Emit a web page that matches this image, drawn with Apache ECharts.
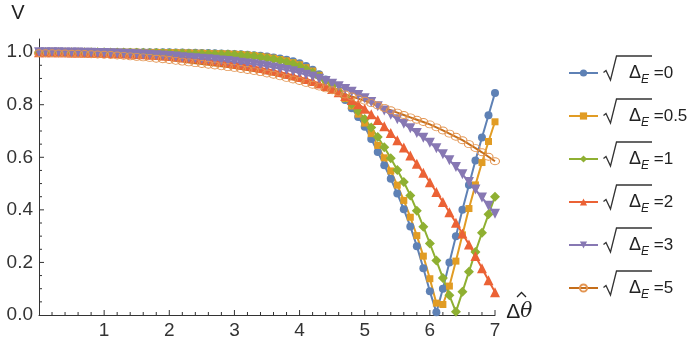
<!DOCTYPE html>
<html>
<head>
<meta charset="utf-8">
<script src="https://cdn.jsdelivr.net/npm/echarts@6/dist/echarts.min.js"></script>
<style>
  html, body { margin: 0; padding: 0; background: #fff; }
  #mycharts { width: 700px; height: 350px; }
</style>
</head>
<body>
<div id="mycharts"></div>
<script>
// sample grid of the plot (Δθ̂)
var xs = [0, 0.1, 0.2, 0.3, 0.4, 0.5, 0.6, 0.7, 0.8, 0.9,
  1, 1.1, 1.2, 1.3, 1.4, 1.5, 1.6, 1.7, 1.8, 1.9,
  2, 2.1, 2.2, 2.3, 2.4, 2.5, 2.6, 2.7, 2.8, 2.9,
  3, 3.1, 3.2, 3.3, 3.4, 3.5, 3.6, 3.7, 3.8, 3.9,
  4, 4.1, 4.2, 4.3, 4.4, 4.5, 4.6, 4.7, 4.8, 4.9,
  5, 5.1, 5.2, 5.3, 5.4, 5.5, 5.6, 5.7, 5.8, 5.9,
  6, 6.1, 6.2, 6.3, 6.4, 6.5, 6.6, 6.7, 6.8, 6.9, 7];

// V for each sqrt(ΔE)
var v0 = [1, 1, 1, 1, 1, 1, 1, 1, 1, 1,
  1, 1, 1, 1, 1, 1, 1, 1, 1, 1,
  1, 0.999, 0.999, 0.998, 0.998, 0.997, 0.997, 0.996, 0.995, 0.994,
  0.993, 0.992, 0.990, 0.988, 0.986, 0.983, 0.980, 0.976, 0.971, 0.965,
  0.958, 0.947, 0.933, 0.916, 0.896, 0.873, 0.847, 0.818, 0.787, 0.753,
  0.716, 0.670, 0.620, 0.570, 0.518, 0.462, 0.402, 0.337, 0.262, 0.178,
  0.090, 0.010, 0.100, 0.200, 0.300, 0.400, 0.495, 0.588, 0.675, 0.760, 0.845];
var v05 = [1, 1, 1, 1, 1, 1, 1, 1, 1, 1,
  1, 1, 1, 1, 1, 1, 0.999, 0.999, 0.999, 0.998,
  0.998, 0.998, 0.997, 0.997, 0.996, 0.996, 0.995, 0.994, 0.994, 0.993,
  0.992, 0.991, 0.989, 0.987, 0.984, 0.981, 0.977, 0.972, 0.967, 0.960,
  0.952, 0.941, 0.928, 0.912, 0.893, 0.872, 0.849, 0.823, 0.795, 0.764,
  0.730, 0.690, 0.645, 0.598, 0.548, 0.494, 0.436, 0.372, 0.302, 0.224,
  0.138, 0.045, 0.040, 0.110, 0.205, 0.305, 0.405, 0.495, 0.580, 0.660, 0.735];
var v1 = [1, 1, 1, 1, 1, 1, 1, 1, 1, 1,
  1, 0.999, 0.999, 0.999, 0.998, 0.998, 0.998, 0.997, 0.997, 0.996,
  0.996, 0.995, 0.995, 0.994, 0.994, 0.993, 0.993, 0.992, 0.991, 0.991,
  0.990, 0.988, 0.986, 0.984, 0.981, 0.977, 0.973, 0.968, 0.962, 0.955,
  0.946, 0.935, 0.922, 0.907, 0.891, 0.872, 0.851, 0.828, 0.803, 0.776,
  0.746, 0.713, 0.677, 0.638, 0.596, 0.552, 0.506, 0.455, 0.397, 0.336,
  0.272, 0.207, 0.141, 0.075, 0.012, 0.088, 0.165, 0.240, 0.313, 0.383, 0.450];
var v2 = [1, 1, 1, 1, 1, 0.999, 0.999, 0.999, 0.998, 0.998,
  0.997, 0.997, 0.996, 0.995, 0.994, 0.993, 0.992, 0.990, 0.989, 0.987,
  0.985, 0.983, 0.981, 0.979, 0.977, 0.974, 0.971, 0.968, 0.965, 0.961,
  0.957, 0.953, 0.949, 0.945, 0.940, 0.935, 0.930, 0.924, 0.918, 0.912,
  0.905, 0.898, 0.890, 0.881, 0.871, 0.860, 0.847, 0.833, 0.818, 0.802,
  0.785, 0.764, 0.742, 0.718, 0.692, 0.665, 0.637, 0.607, 0.575, 0.541,
  0.505, 0.468, 0.430, 0.391, 0.351, 0.310, 0.268, 0.224, 0.178, 0.132, 0.087];
var v3 = [1, 1, 1, 1, 0.999, 0.999, 0.999, 0.998, 0.998, 0.997,
  0.997, 0.996, 0.995, 0.994, 0.993, 0.992, 0.991, 0.990, 0.988, 0.987,
  0.985, 0.983, 0.981, 0.979, 0.977, 0.975, 0.973, 0.971, 0.968, 0.966,
  0.963, 0.960, 0.957, 0.954, 0.950, 0.946, 0.942, 0.937, 0.932, 0.927,
  0.921, 0.914, 0.907, 0.899, 0.890, 0.880, 0.870, 0.860, 0.849, 0.837,
  0.825, 0.810, 0.794, 0.778, 0.762, 0.745, 0.728, 0.710, 0.692, 0.674,
  0.655, 0.634, 0.612, 0.589, 0.563, 0.535, 0.506, 0.477, 0.447, 0.416, 0.385];
var v5 = [0.996, 0.996, 0.996, 0.995, 0.995, 0.994, 0.994, 0.993, 0.992, 0.991,
  0.990, 0.989, 0.987, 0.986, 0.984, 0.982, 0.980, 0.978, 0.975, 0.973,
  0.970, 0.967, 0.964, 0.961, 0.958, 0.955, 0.952, 0.949, 0.946, 0.943,
  0.940, 0.936, 0.932, 0.928, 0.924, 0.919, 0.914, 0.908, 0.902, 0.896,
  0.890, 0.883, 0.876, 0.869, 0.862, 0.855, 0.847, 0.839, 0.831, 0.823,
  0.815, 0.806, 0.797, 0.788, 0.779, 0.770, 0.761, 0.752, 0.743, 0.734,
  0.725, 0.714, 0.702, 0.690, 0.678, 0.665, 0.650, 0.635, 0.619, 0.602, 0.585];

var names = ["0", "0.5", "1", "2", "3", "5"];
var values = [v0, v05, v1, v2, v3, v5];
var colors = ["#5E81B5", "#E19C24", "#8FB032", "#EB6235", "#8778B3", "#C56E1A"];
var symbols = ["circle", "rect", "diamond", "triangle", "triangle", "circle"];
var symbolSizes = [8, 7, 10, 10, 10, [9, 7]];
var symbolRotates = [0, 0, 0, 0, 180, 0];

var xTicks = [1, 2, 3, 4, 5, 6, 7];
var yTicks = [0, 0.2, 0.4, 0.6, 0.8, 1.0];
var xMinorStep = 0.2;
var yMinorStep = 0.05;

var myCharts = echarts.init(document.getElementById("mycharts"));

var series = names.map(function (n, k) {
  return {
    name: n,
    type: "line",
    data: xs.map(function (x, i) { return [x, values[k][i]]; }),
    symbol: symbols[k],
    symbolSize: symbolSizes[k],
    symbolRotate: symbolRotates[k],
    showAllSymbol: true,
    color: colors[k],
    lineStyle: { width: 2, color: colors[k] },
    // the last series has open circles: no fill, thin light outline
    itemStyle: k === 5
      ? { color: "rgba(255,255,255,0)", borderColor: "#E39552", borderWidth: 1 }
      : { color: colors[k] },
    emphasis: { disabled: true },
    animation: false
  };
});

// one legend box per entry, so the rows sit at fixed heights
var legendRow0 = 72;
var legendPitch = 43;
var legends = names.map(function (n, k) {
  return {
    orient: "vertical",
    left: 563,
    top: legendRow0 + k * legendPitch - 13,
    itemWidth: 29,
    itemHeight: 9,
    selectedMode: false,
    data: [n],
    formatter: function (name) {
      return "{d|Δ}{s|E}{t| =" + name + "}";
    },
    textStyle: {
      color: "#222",
      rich: {
        d: { fontFamily: "Liberation Sans", fontSize: 18, lineHeight: 26, padding: [0, 0, 0, 26] },
        s: { fontFamily: "Liberation Sans", fontSize: 12, fontStyle: "italic", lineHeight: 14, verticalAlign: "bottom" },
        t: { fontFamily: "Liberation Sans", fontSize: 17, lineHeight: 26 }
      }
    }
  };
});

// square-root signs of the legend labels and the hat of θ
var marks = names.map(function (n, k) {
  var cy = legendRow0 + k * legendPitch;
  return {
    type: "polyline",
    shape: { points: [[603.5, cy + 0.5], [606, cy - 1.5], [610.5, cy + 8], [616.5, cy - 16], [652, cy - 16]] },
    style: { stroke: "#333", lineWidth: 1.3, fill: null }
  };
});
marks.push({
  type: "polyline",
  shape: { points: [[517, 297], [521.5, 292.5], [526, 297]] },
  style: { stroke: "#222", lineWidth: 1.3, fill: null }
});

var labelFont = { fontFamily: "Liberation Sans", fontSize: 19, color: "#333" };

var option = {
  animation: false,
  grid: { left: 39, right: 205, top: 39, bottom: 35 },
  legend: legends,
  xAxis: {
    type: "value",
    min: 0,
    max: 7,
    interval: 1,
    name: "{a|Δ}{b|θ}",
    nameLocation: "end",
    nameGap: 1,
    nameTextStyle: {
      padding: [0, 0, 6, 0],
      rich: {
        a: { fontFamily: "Liberation Sans", fontSize: 21, color: "#222" },
        b: { fontFamily: "DejaVu Serif", fontSize: 20, fontStyle: "italic", color: "#222" }
      }
    },
    axisLine: { show: true, lineStyle: { color: "#333", width: 1 } },
    axisTick: { show: false },
    splitLine: { show: false },
    axisLabel: Object.assign({ margin: 6, customValues: xTicks }, labelFont)
  },
  yAxis: {
    type: "value",
    min: 0,
    max: 1.05,
    interval: 0.2,
    name: "V",
    nameLocation: "end",
    nameGap: 16,
    nameTextStyle: { fontFamily: "Liberation Sans", fontSize: 20, color: "#222", padding: [0, 42, 0, 0] },
    axisLine: { show: true, lineStyle: { color: "#333", width: 1 } },
    axisTick: { show: false },
    splitLine: { show: false },
    axisLabel: Object.assign({
      margin: 6,
      customValues: yTicks,
      formatter: function (v) { return v.toFixed(1); }
    }, labelFont)
  },
  series: series
};

myCharts.setOption(option);

// inward ticks in the Mathematica style, placed through the axes' own scales
var ticks = [];
var x0 = myCharts.convertToPixel({ xAxisIndex: 0 }, 0);
var y0 = myCharts.convertToPixel({ yAxisIndex: 0 }, 0);
for (var i = 1; i <= 35; i++) {
  var px = myCharts.convertToPixel({ xAxisIndex: 0 }, i * xMinorStep);
  var lx = i % 5 === 0 ? 5 : 3;
  ticks.push({ type: "line", shape: { x1: px, y1: y0, x2: px, y2: y0 - lx }, style: { stroke: "#333", lineWidth: 1 } });
}
for (var j = 1; j <= 20; j++) {
  var py = myCharts.convertToPixel({ yAxisIndex: 0 }, j * yMinorStep);
  var ly = j % 4 === 0 ? 5 : 3;
  ticks.push({ type: "line", shape: { x1: x0, y1: py, x2: x0 + ly, y2: py }, style: { stroke: "#333", lineWidth: 1 } });
}

myCharts.setOption({ graphic: marks.concat(ticks) });
</script>
</body>
</html>
